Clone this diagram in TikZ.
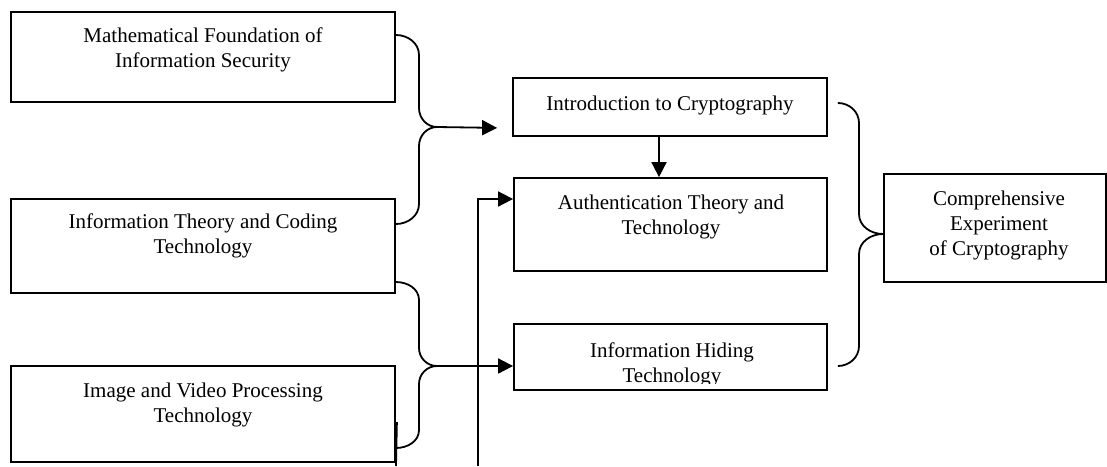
\documentclass[tikz,border=0pt]{standalone}
\usepackage{fontspec}
\setmainfont{Liberation Serif}
\usetikzlibrary{arrows.meta}
\newcommand{\mylines}[1]{\begin{tabular}[t]{@{}c@{}}#1\end{tabular}}
\begin{document}
\begin{tikzpicture}[x=1pt,y=-1pt,
  box/.style={draw, line width=1.8pt, inner sep=0pt},
  txt/.style={inner sep=0pt, anchor=base, font=\fontsize{21}{25}\selectfont},
  conn/.style={line width=1.8pt},
  arr/.style={line width=1.8pt, -{Triangle[length=15pt,width=15pt]}}]
\useasboundingbox (0,0) rectangle (1107,466);

% boxes
\node[box, minimum width=384pt, minimum height=90pt] (A) at (203,57) {};
\node[box, minimum width=384pt, minimum height=94pt] (B) at (203,246) {};
\node[box, minimum width=384pt, minimum height=96pt] (C) at (203,414) {};
\node[box, minimum width=314pt, minimum height=58pt] (I) at (670,107) {};
\node[box, minimum width=313pt, minimum height=93pt] (Au) at (670.5,224.5) {};
\node[box, minimum width=313pt, minimum height=66pt] (H) at (670.5,357) {};
\node[box, minimum width=222pt, minimum height=108pt] (Co) at (995,228) {};

% texts
\node[txt] (At) at (203,42) {\mylines{Mathematical Foundation of\\Information Security}};
\node[txt] (Bt) at (203,228) {\mylines{Information Theory and Coding\\Technology}};
\node[txt] (Ct) at (203,397) {\mylines{Image and Video Processing\\Technology}};
\node[txt] (It) at (670,110) {Introduction to Cryptography};
\node[txt] (Aut) at (671,209) {\mylines{Authentication Theory and\\Technology}};
\begin{scope}
  \clip (H.north west) rectangle ([yshift=7pt]H.south east);
  \node[txt] (Ht) at (672,357) {\mylines{Information Hiding\\Technology}};
\end{scope}
\node[txt] (Cot) at (999,205) {\mylines{Comprehensive\\Experiment\\of Cryptography}};

% brace 1
\coordinate (t1) at (437,127);
\draw[conn] ([yshift=22pt]A.east) to[out=0,in=90] (419,55) -- (419,108) to[out=-90,in=180] (t1);
\draw[conn] ([yshift=22pt]B.east) to[out=0,in=-90] (419,204) -- (419,146) to[out=90,in=180] (t1);
\draw[arr] (t1) -- ([xshift=-15pt,yshift=9pt]I.south west);

% brace 2
\coordinate (t2) at (437,366);
\draw[conn] ([yshift=-36pt]B.east) to[out=0,in=90] (419,300) -- (419,348) to[out=-90,in=180] (t2);
\draw[conn] ([yshift=-34pt]C.east) to[out=0,in=-90] (419,430) -- (419,384) to[out=90,in=180] (t2);
\draw[arr] (t2) -- ([yshift=-9pt]H.west);

% brace 3
\coordinate (t3) at ([yshift=-6pt]Co.west);
\draw[conn] ([xshift=10pt,yshift=4pt]I.east) to[out=0,in=90] (859,123) -- (859,214) to[out=-90,in=180] (t3);
\draw[conn] ([xshift=10pt,yshift=-9pt]H.east) to[out=0,in=-90] (859,346) -- (859,254) to[out=90,in=180] (t3);

% down arrow
\draw[arr] ([xshift=-11pt]I.south) -- ([xshift=-11pt]I.south |- Au.north);

% long arrow from bottom
\coordinate (b1) at (478,466);
\draw[arr] (b1) |- ([yshift=25.5pt]Au.west);

% small tick
\coordinate (b2) at (396,466);
\draw[conn] ([xshift=1pt,yshift=-8pt]C.east) -- (b2);
\end{tikzpicture}
\end{document}
